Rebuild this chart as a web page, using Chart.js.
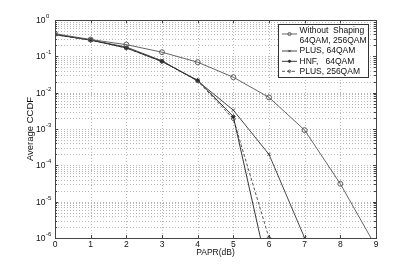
<!DOCTYPE html>
<html><head><meta charset="utf-8">
<script src="https://cdn.jsdelivr.net/npm/chart.js@4/dist/chart.umd.min.js"></script>
<style>html,body{margin:0;padding:0;background:#fff;}#wrap{width:415px;height:268px;}</style>
</head><body><div id="wrap"><canvas id="c" width="415" height="268"></canvas></div>
<script>
// ---- data ----
const xTickLabels = [0,1,2,3,4,5,6,7,8,9];
const yDecades = [0,-1,-2,-3,-4,-5,-6];

const withoutShapingX = [0,1,2,3,4,5,6,7,8,9];
const withoutShaping  = [0.42,0.29,0.21,0.13,0.069,0.0266,0.0074,9.3e-4,3.1e-5,5.7e-7];

const plus64X = [0,1,2,3,4,5,6,7];
const plus64  = [0.40,0.28,0.18,0.075,0.021,0.0033,2.0e-4,1.0e-6];

const hnf64X = [0,1,2,3,4,5,6];
const hnf64  = [0.40,0.28,0.17,0.072,0.022,0.0022,9e-8];

const plus256X = [0,1,2,3,4,5,6];
const plus256  = [0.39,0.28,0.17,0.073,0.021,0.0019,1.0e-6];

const legendLabels = [["Without  Shaping","64QAM, 256QAM"],["PLUS, 64QAM"],["HNF,   64QAM"],["PLUS, 256QAM"]];

const pts = (xs, ys) => xs.map((x,i)=>({x:x, y:ys[i]}));
const FONT = '"Liberation Sans", Arial, sans-serif';

const styles = [
  {pointStyle:'circle', radius:2.5, dash:[], color:'#555'},
  {pointStyle:'crossRot', radius:2.2, dash:[], color:'#333'},
  {pointStyle:'star', radius:2.3, dash:[], color:'#222'},
  {pointStyle:'rectRot', radius:2.2, dash:[3,2], color:'#444'}
];
const series = [pts(withoutShapingX, withoutShaping), pts(plus64X, plus64), pts(hnf64X, hnf64), pts(plus256X, plus256)];

const datasets = series.map((d,i)=>({
  label: legendLabels[i].join(' '),
  data: d,
  borderColor: styles[i].color,
  backgroundColor: 'rgba(0,0,0,0)',
  pointBorderColor: styles[i].color,
  pointBackgroundColor: 'rgba(0,0,0,0)',
  borderWidth: 0.9,
  pointBorderWidth: 0.9,
  pointStyle: styles[i].pointStyle,
  pointRadius: styles[i].radius,
  borderDash: styles[i].dash,
  tension: 0,
  clip: 0
}));

const gridPlugin = {
  id:'matlabGrid',
  beforeDatasetsDraw(chart){
    const ctx = chart.ctx, a = chart.chartArea, xs = chart.scales.x, ys = chart.scales.y;
    ctx.save();
    ctx.strokeStyle = '#b8b8b8';
    ctx.lineWidth = 1;
    ctx.setLineDash([1,2]);
    xTickLabels.forEach(v=>{
      const px = Math.round(xs.getPixelForValue(v))+0.5;
      ctx.beginPath(); ctx.moveTo(px,a.top); ctx.lineTo(px,a.bottom); ctx.stroke();
    });
    yDecades.forEach(e=>{
      for(let m=1;m<=9;m++){
        const v = m*Math.pow(10,e);
        if(v>1.0000001) continue;
        const py = Math.round(ys.getPixelForValue(v))+0.5;
        ctx.beginPath(); ctx.moveTo(a.left,py); ctx.lineTo(a.right,py); ctx.stroke();
      }
    });
    ctx.restore();
  },
  afterDraw(chart){
    const ctx = chart.ctx, a = chart.chartArea, xs = chart.scales.x, ys = chart.scales.y;
    ctx.save();
    ctx.setLineDash([]);
    ctx.strokeStyle = '#444';
    ctx.lineWidth = 1;
    ctx.strokeRect(Math.round(a.left)+0.5, Math.round(a.top)+0.5, Math.round(a.right-a.left), Math.round(a.bottom-a.top));
    // ticks
    ctx.beginPath();
    xTickLabels.forEach(v=>{
      const px = Math.round(xs.getPixelForValue(v))+0.5;
      ctx.moveTo(px,a.bottom); ctx.lineTo(px,a.bottom-3);
      ctx.moveTo(px,a.top); ctx.lineTo(px,a.top+3);
    });
    yDecades.forEach(e=>{
      for(let m=1;m<=9;m++){
        const v = m*Math.pow(10,e);
        if(v>1.0000001) continue;
        const py = Math.round(ys.getPixelForValue(v))+0.5;
        const L = m===1?3:2;
        ctx.moveTo(a.left,py); ctx.lineTo(a.left+L,py);
        ctx.moveTo(a.right,py); ctx.lineTo(a.right-L,py);
      }
    });
    ctx.stroke();
    // tick labels
    ctx.fillStyle = '#111';
    ctx.font = '8.5px '+FONT;
    ctx.textAlign = 'center'; ctx.textBaseline = 'middle';
    xTickLabels.forEach(v=>{
      ctx.fillText(String(v), xs.getPixelForValue(v), a.bottom+6.5);
    });
    yDecades.forEach(e=>{
      const py = ys.getPixelForValue(Math.pow(10,e));
      ctx.font = '8.5px '+FONT;
      ctx.textAlign = 'right'; ctx.textBaseline = 'middle';
      ctx.fillText('10', a.left-9.5, py+0.5);
      ctx.font = '6px '+FONT;
      ctx.textAlign = 'left';
      ctx.fillText(e===0?'0':'-'+(-e), a.left-9, py-3.5);
    });
    // axis titles
    ctx.font = '8.5px '+FONT;
    ctx.textAlign = 'center'; ctx.textBaseline = 'middle';
    ctx.fillText('PAPR(dB)', (a.left+a.right)/2, a.bottom+14.5);
    ctx.save();
    ctx.translate(30,(a.top+a.bottom)/2);
    ctx.rotate(-Math.PI/2);
    ctx.font = '9.5px '+FONT;
    ctx.fillText('Average CCDF',0,0);
    ctx.restore();
    // legend
    const lx = 278.5, ly = 24.5, lw = 90, lh = 53;
    ctx.fillStyle = '#fff';
    ctx.fillRect(lx,ly,lw,lh);
    ctx.strokeStyle = '#333';
    ctx.strokeRect(lx,ly,lw,lh);
    const rows = [[30.7,40.3],[51],[61.3],[71.3]];
    const sampleY = [34,51,61.3,71.3];
    legendLabels.forEach((lab,i)=>{
      ctx.fillStyle = '#111';
      ctx.font = '8.5px '+FONT;
      ctx.textAlign='left'; ctx.textBaseline='middle';
      lab.forEach((t,j)=>ctx.fillText(t, 299.5, rows[i][j]));
      ctx.strokeStyle = styles[i].color;
      ctx.lineWidth = 0.9;
      ctx.setLineDash(styles[i].dash);
      ctx.beginPath(); ctx.moveTo(282, sampleY[i]); ctx.lineTo(297, sampleY[i]); ctx.stroke();
      ctx.setLineDash([]);
      ctx.fillStyle = 'rgba(0,0,0,0)';
      Chart.helpers.drawPoint(ctx, {pointStyle:styles[i].pointStyle, radius:1.6, borderWidth:0.9}, 289.5, sampleY[i]);
    });
    ctx.restore();
  }
};

new Chart(document.getElementById('c'), {
  type:'line',
  data:{datasets},
  options:{
    responsive:false,
    animation:false,
    devicePixelRatio:1,
    layout:{padding:{left:55,right:39,top:20,bottom:30}},
    plugins:{legend:{display:false},tooltip:{enabled:false}},
    scales:{
      x:{type:'linear',min:0,max:9,display:false},
      y:{type:'logarithmic',min:1e-6,max:1,display:false}
    }
  },
  plugins:[gridPlugin]
});
</script>
</body></html>
